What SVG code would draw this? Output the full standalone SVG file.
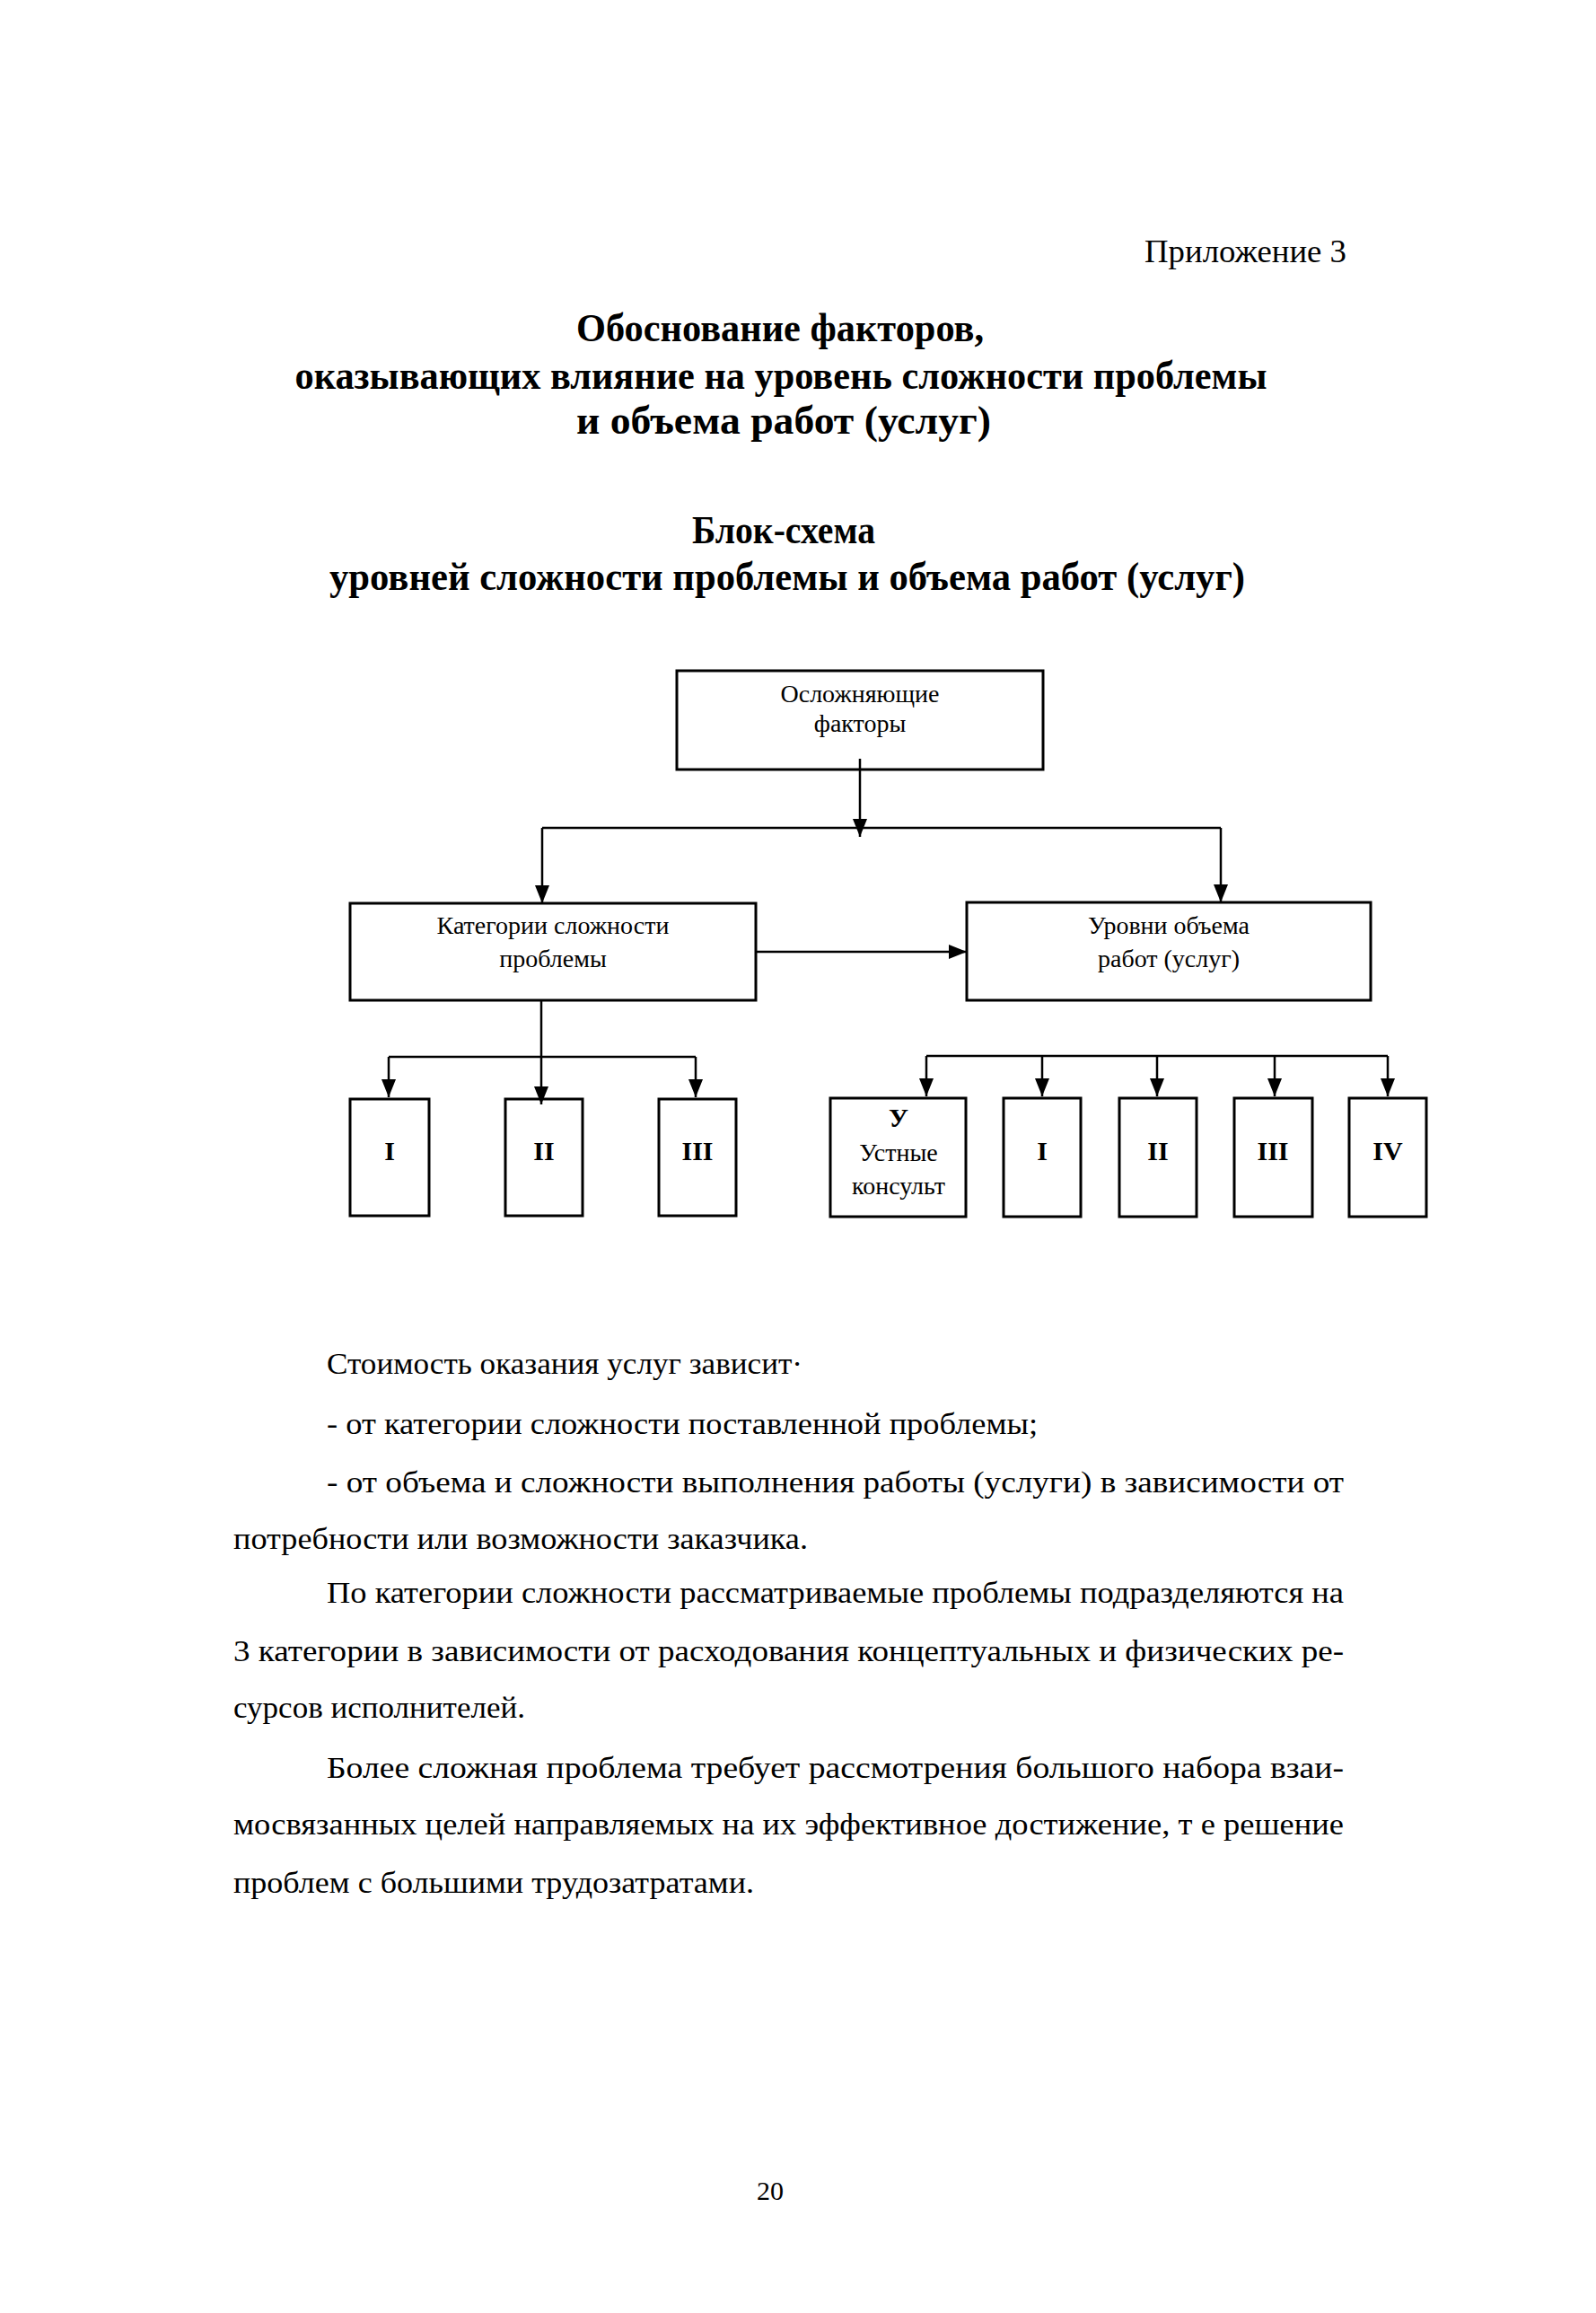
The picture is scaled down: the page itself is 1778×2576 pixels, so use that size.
<svg xmlns="http://www.w3.org/2000/svg" width="1778" height="2576" viewBox="0 0 1778 2576">
<style>
.t{font-family:"Liberation Serif","Times New Roman",serif;fill:#000}
.h{font-weight:bold;font-size:44px;text-anchor:middle}
.b{font-size:34px}
.n{font-size:28px;text-anchor:middle}
.r{font-size:30px;font-weight:bold;text-anchor:middle}
.box{fill:none;stroke:#000;stroke-width:3}
.ln{fill:none;stroke:#000;stroke-width:2.5}
</style>
<defs>
<marker id="ah" markerUnits="userSpaceOnUse" markerWidth="20" markerHeight="16" refX="20" refY="8" orient="auto" viewBox="0 0 20 16">
<path d="M0 0 L20 8 L0 16 Z" fill="#000"/>
</marker>
</defs>
<rect width="1778" height="2576" fill="#fff"/>

<g id="header">
<text class="t" x="1275" y="292" font-size="36" textLength="225" lengthAdjust="spacingAndGlyphs">Приложение 3</text>
<text class="t h" x="869" y="380" textLength="454" lengthAdjust="spacingAndGlyphs">Обоснование  факторов,</text>
<text class="t h" x="870" y="433" textLength="1083" lengthAdjust="spacingAndGlyphs">оказывающих влияние  на уровень сложности  проблемы</text>
<text class="t h" x="873" y="483" textLength="462" lengthAdjust="spacingAndGlyphs">и объема  работ  (услуг)</text>
<text class="t h" x="873" y="605" textLength="204" lengthAdjust="spacingAndGlyphs">Блок-схема</text>
<text class="t h" x="877" y="657" textLength="1020" lengthAdjust="spacingAndGlyphs">уровней сложности  проблемы  и объема работ (услуг)</text>
</g>

<g id="connectors">
<path class="ln" d="M958 845 V932" marker-end="url(#ah)"/>
<path class="ln" d="M604 922 H1360"/>
<path class="ln" d="M604 922 V1006" marker-end="url(#ah)"/>
<path class="ln" d="M1360 922 V1005" marker-end="url(#ah)"/>
<path class="ln" d="M842 1060 H1077" marker-end="url(#ah)"/>
<path class="ln" d="M603 1114 V1230" marker-end="url(#ah)"/>
<path class="ln" d="M433 1177 H775"/>
<path class="ln" d="M433 1177 V1222" marker-end="url(#ah)"/>
<path class="ln" d="M775 1177 V1222" marker-end="url(#ah)"/>
<path class="ln" d="M1032 1176 H1546"/>
<path class="ln" d="M1032 1176 V1221" marker-end="url(#ah)"/>
<path class="ln" d="M1161 1176 V1221" marker-end="url(#ah)"/>
<path class="ln" d="M1289 1176 V1221" marker-end="url(#ah)"/>
<path class="ln" d="M1420 1176 V1221" marker-end="url(#ah)"/>
<path class="ln" d="M1546 1176 V1221" marker-end="url(#ah)"/>
</g>

<g id="node-factors">
<rect class="box" x="754" y="747" width="408" height="110"/>
<text class="t n" x="958" y="782">Осложняющие</text>
<text class="t n" x="958" y="815">факторы</text>
</g>
<g id="node-categories">
<rect class="box" x="390" y="1006" width="452" height="108"/>
<text class="t n" x="616" y="1040">Категории сложности</text>
<text class="t n" x="616" y="1077">проблемы</text>
</g>
<g id="node-levels">
<rect class="box" x="1077" y="1005" width="450" height="109"/>
<text class="t n" x="1302" y="1040">Уровни объема</text>
<text class="t n" x="1302" y="1077">работ (услуг)</text>
</g>

<g id="node-cat-1">
<rect class="box" x="390" y="1224" width="88" height="130"/>
<text class="t r" x="434" y="1292">I</text>
</g>
<g id="node-cat-2">
<rect class="box" x="563" y="1224" width="86" height="130"/>
<text class="t r" x="606" y="1292">II</text>
</g>
<g id="node-cat-3">
<rect class="box" x="734" y="1224" width="86" height="130"/>
<text class="t r" x="777" y="1292">III</text>
</g>

<g id="node-lvl-u">
<rect class="box" x="925" y="1223" width="151" height="132"/>
<text class="t r" x="1001" y="1255" font-weight="normal">У</text>
<text class="t n" x="1001" y="1293">Устные</text>
<text class="t n" x="1001" y="1330">консульт</text>
</g>
<g id="node-lvl-1">
<rect class="box" x="1118" y="1223" width="86" height="132"/>
<text class="t r" x="1161" y="1292">I</text>
</g>
<g id="node-lvl-2">
<rect class="box" x="1247" y="1223" width="86" height="132"/>
<text class="t r" x="1290" y="1292">II</text>
</g>
<g id="node-lvl-3">
<rect class="box" x="1375" y="1223" width="87" height="132"/>
<text class="t r" x="1418" y="1292">III</text>
</g>
<g id="node-lvl-4">
<rect class="box" x="1503" y="1223" width="86" height="132"/>
<text class="t r" x="1546" y="1292">IV</text>
</g>

<g id="body">
<text class="t b" x="364" y="1530" textLength="530" lengthAdjust="spacingAndGlyphs">Стоимость оказания услуг зависит·</text>
<text class="t b" x="364" y="1597" textLength="792" lengthAdjust="spacingAndGlyphs">- от категории сложности поставленной проблемы;</text>
<text class="t b" x="364" y="1662" textLength="1133" lengthAdjust="spacingAndGlyphs">- от объема и сложности выполнения работы (услуги) в зависимости от</text>
<text class="t b" x="260" y="1725" textLength="640" lengthAdjust="spacingAndGlyphs">потребности или возможности заказчика.</text>
<text class="t b" x="364" y="1785" textLength="1133" lengthAdjust="spacingAndGlyphs">По категории сложности рассматриваемые проблемы подразделяются на</text>
<text class="t b" x="260" y="1850" textLength="1237" lengthAdjust="spacingAndGlyphs">3 категории в зависимости от расходования концептуальных и физических ре-</text>
<text class="t b" x="260" y="1913" textLength="325" lengthAdjust="spacingAndGlyphs">сурсов исполнителей.</text>
<text class="t b" x="364" y="1980" textLength="1133" lengthAdjust="spacingAndGlyphs">Более сложная проблема требует рассмотрения большого набора взаи-</text>
<text class="t b" x="260" y="2043" textLength="1237" lengthAdjust="spacingAndGlyphs">мосвязанных целей направляемых на их эффективное достижение, т е  решение</text>
<text class="t b" x="260" y="2108" textLength="580" lengthAdjust="spacingAndGlyphs">проблем с большими трудозатратами.</text>
</g>

<g id="footer">
<text class="t" x="858" y="2450" font-size="30" text-anchor="middle">20</text>
</g>
</svg>
